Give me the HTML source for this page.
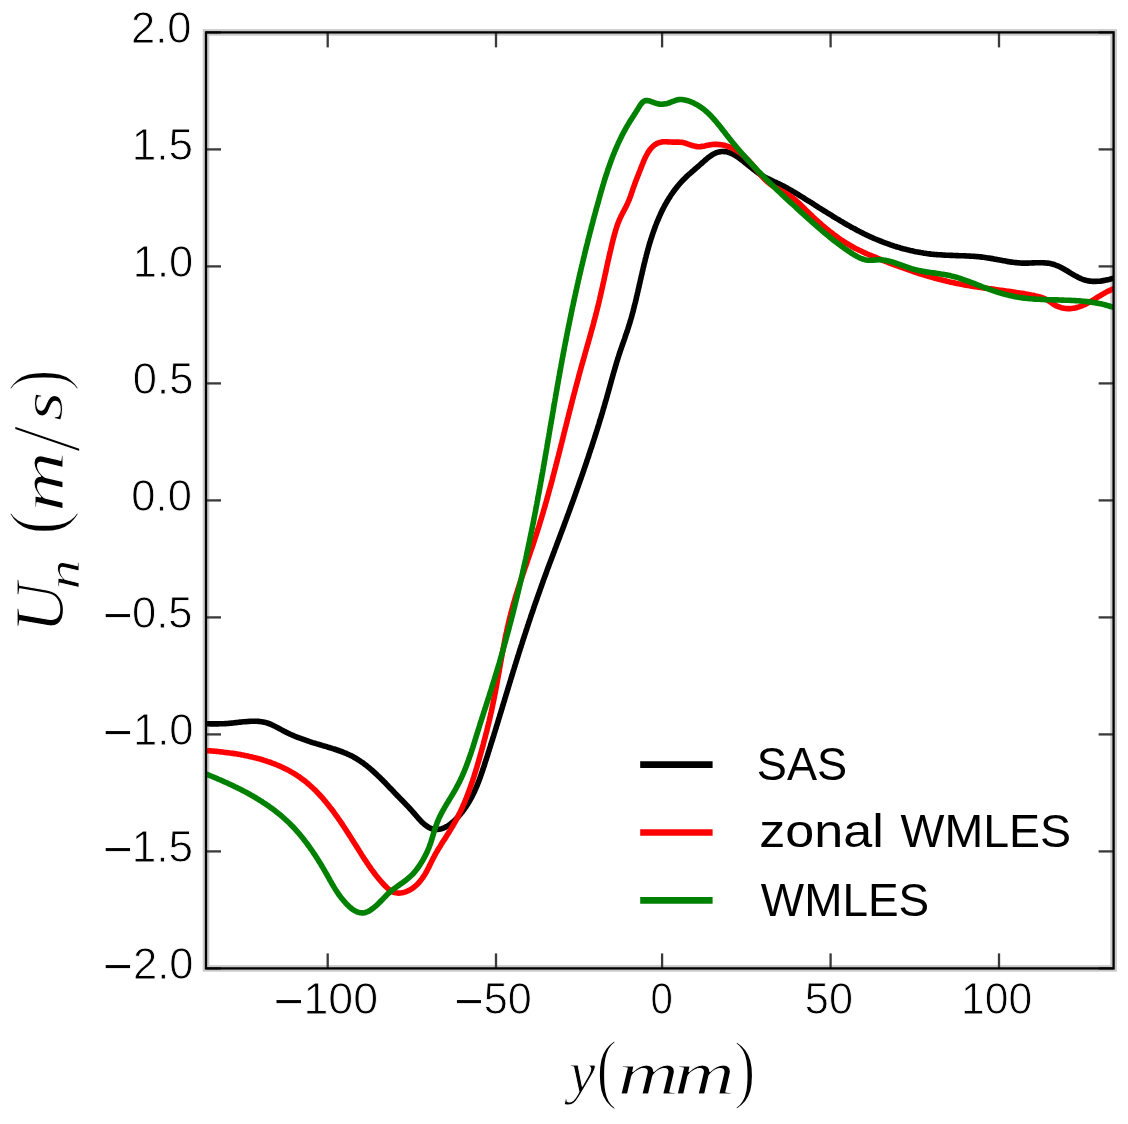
<!DOCTYPE html>
<html><head><meta charset="utf-8"><style>
html,body{margin:0;padding:0;background:#fff;}
svg{display:block;filter:blur(0.45px);}
</style></head><body>
<svg width="1128" height="1124" viewBox="0 0 1128 1124">
<rect x="0" y="0" width="1128" height="1124" fill="#fff"/>
<defs><clipPath id="ax"><rect x="206.0" y="32.4" width="907.5999999999999" height="936.0"/></clipPath></defs>
<rect x="206.0" y="32.4" width="907.5999999999999" height="936.0" fill="none" stroke="#cacaca" stroke-width="6.6"/>
<g clip-path="url(#ax)" fill="none" stroke-width="5.6" stroke-linejoin="round" stroke-linecap="round">
<path stroke="#000" d="M206.0,723.7L207.5,723.8 209.0,723.8 210.5,723.9 212.0,723.9 213.5,723.9 215.0,723.9 216.5,723.9 218.0,723.9 219.5,723.8 221.0,723.8 222.5,723.7 224.0,723.7 225.5,723.6 227.0,723.5 228.5,723.4 230.0,723.2 231.5,723.1 233.0,723.0 234.5,722.8 236.0,722.6 237.5,722.5 238.9,722.3 240.4,722.1 241.9,722.0 243.4,721.8 244.9,721.7 246.4,721.6 247.9,721.5 249.4,721.4 250.9,721.3 252.4,721.2 253.9,721.2 255.4,721.2 256.9,721.3 258.4,721.4 259.9,721.5 261.4,721.7 262.9,722.0 264.3,722.3 265.8,722.6 267.2,723.0 268.7,723.5 270.1,724.0 271.4,724.6 272.8,725.2 274.2,725.9 275.5,726.6 276.8,727.3 278.2,728.0 279.5,728.7 280.8,729.4 282.1,730.1 283.4,730.9 284.8,731.5 286.1,732.2 287.4,732.9 288.8,733.5 290.2,734.2 291.5,734.8 292.9,735.4 294.3,736.0 295.7,736.6 297.1,737.1 298.5,737.7 299.9,738.2 301.3,738.7 302.7,739.2 304.1,739.7 305.5,740.2 306.9,740.7 308.3,741.2 309.8,741.7 311.2,742.1 312.6,742.6 314.1,743.0 315.5,743.4 316.9,743.9 318.4,744.3 319.8,744.7 321.3,745.1 322.7,745.6 324.1,746.0 325.6,746.4 327.0,746.8 328.5,747.3 329.9,747.7 331.3,748.1 332.8,748.6 334.2,749.0 335.6,749.5 337.0,750.0 338.5,750.5 339.9,751.0 341.3,751.5 342.7,752.0 344.1,752.6 345.5,753.2 346.8,753.7 348.2,754.4 349.6,755.0 350.9,755.6 352.3,756.3 353.6,757.0 354.9,757.8 356.2,758.5 357.5,759.3 358.7,760.1 360.0,760.9 361.2,761.8 362.5,762.6 363.7,763.5 364.9,764.4 366.1,765.3 367.3,766.2 368.4,767.2 369.6,768.2 370.7,769.1 371.9,770.1 373.0,771.1 374.1,772.1 375.2,773.1 376.3,774.1 377.4,775.2 378.5,776.2 379.6,777.3 380.6,778.3 381.7,779.4 382.8,780.4 383.8,781.5 384.9,782.6 385.9,783.6 386.9,784.7 388.0,785.8 389.0,786.9 390.1,788.0 391.1,789.1 392.1,790.1 393.2,791.2 394.2,792.3 395.2,793.4 396.3,794.5 397.3,795.6 398.4,796.6 399.4,797.7 400.5,798.8 401.5,799.9 402.6,800.9 403.6,802.0 404.7,803.1 405.7,804.2 406.7,805.2 407.8,806.3 408.8,807.4 409.8,808.5 410.8,809.6 411.8,810.7 412.8,811.9 413.8,813.0 414.8,814.1 415.8,815.3 416.8,816.4 417.7,817.5 418.7,818.7 419.8,819.8 420.8,820.9 421.8,821.9 422.9,823.0 424.0,824.0 425.2,824.9 426.4,825.9 427.6,826.7 428.9,827.5 430.3,828.1 431.7,828.7 433.1,829.1 434.6,829.3 436.1,829.4 437.6,829.4 439.1,829.3 440.5,829.0 442.0,828.6 443.4,828.1 444.8,827.5 446.1,826.8 447.4,826.1 448.7,825.3 449.9,824.4 451.1,823.5 452.3,822.6 453.4,821.6 454.5,820.6 455.6,819.5 456.6,818.4 457.7,817.3 458.7,816.2 459.6,815.1 460.6,813.9 461.5,812.8 462.5,811.6 463.4,810.4 464.2,809.2 465.1,807.9 466.0,806.7 466.8,805.4 467.6,804.2 468.4,802.9 469.2,801.6 469.9,800.3 470.6,799.0 471.4,797.7 472.1,796.4 472.7,795.0 473.4,793.7 474.1,792.3 474.7,791.0 475.3,789.6 475.9,788.2 476.5,786.8 477.1,785.5 477.6,784.1 478.2,782.7 478.7,781.3 479.3,779.9 479.8,778.5 480.3,777.0 480.8,775.6 481.3,774.2 481.8,772.8 482.3,771.4 482.7,770.0 483.2,768.5 483.7,767.1 484.2,765.7 484.6,764.2 485.1,762.8 485.5,761.4 486.0,760.0 486.5,758.5 486.9,757.1 487.4,755.7 487.8,754.2 488.3,752.8 488.7,751.4 489.2,750.0 489.6,748.5 490.1,747.1 490.5,745.7 491.0,744.2 491.4,742.8 491.9,741.4 492.3,739.9 492.8,738.5 493.2,737.1 493.7,735.6 494.1,734.2 494.5,732.8 495.0,731.3 495.4,729.9 495.9,728.5 496.3,727.0 496.7,725.6 497.2,724.2 497.6,722.7 498.1,721.3 498.5,719.8 498.9,718.4 499.4,717.0 499.8,715.5 500.2,714.1 500.7,712.7 501.1,711.2 501.6,709.8 502.0,708.4 502.4,706.9 502.9,705.5 503.3,704.1 503.7,702.6 504.2,701.2 504.6,699.7 505.0,698.3 505.5,696.9 505.9,695.4 506.3,694.0 506.8,692.6 507.2,691.1 507.6,689.7 508.1,688.3 508.5,686.8 509.0,685.4 509.4,683.9 509.8,682.5 510.3,681.1 510.7,679.6 511.1,678.2 511.6,676.8 512.0,675.3 512.5,673.9 512.9,672.5 513.3,671.0 513.8,669.6 514.2,668.2 514.7,666.7 515.1,665.3 515.6,663.9 516.0,662.4 516.5,661.0 516.9,659.6 517.3,658.1 517.8,656.7 518.2,655.3 518.7,653.8 519.1,652.4 519.6,651.0 520.0,649.5 520.5,648.1 521.0,646.7 521.4,645.3 521.9,643.8 522.3,642.4 522.8,641.0 523.2,639.5 523.7,638.1 524.2,636.7 524.6,635.3 525.1,633.8 525.6,632.4 526.0,631.0 526.5,629.5 527.0,628.1 527.4,626.7 527.9,625.3 528.4,623.8 528.8,622.4 529.3,621.0 529.8,619.6 530.3,618.1 530.7,616.7 531.2,615.3 531.7,613.9 532.2,612.5 532.7,611.0 533.2,609.6 533.6,608.2 534.1,606.8 534.6,605.4 535.1,603.9 535.6,602.5 536.1,601.1 536.6,599.7 537.1,598.3 537.6,596.9 538.1,595.4 538.6,594.0 539.1,592.6 539.6,591.2 540.1,589.8 540.6,588.4 541.1,587.0 541.6,585.5 542.1,584.1 542.6,582.7 543.1,581.3 543.6,579.9 544.1,578.5 544.6,577.1 545.2,575.7 545.7,574.3 546.2,572.8 546.7,571.4 547.2,570.0 547.7,568.6 548.3,567.2 548.8,565.8 549.3,564.4 549.8,563.0 550.4,561.6 550.9,560.2 551.4,558.8 552.0,557.4 552.5,556.0 553.0,554.6 553.5,553.2 554.1,551.8 554.6,550.4 555.1,548.9 555.7,547.5 556.2,546.1 556.7,544.7 557.2,543.3 557.8,541.9 558.3,540.5 558.8,539.1 559.4,537.7 559.9,536.3 560.4,534.9 560.9,533.5 561.5,532.1 562.0,530.7 562.5,529.3 563.1,527.9 563.6,526.5 564.1,525.1 564.6,523.7 565.1,522.3 565.7,520.8 566.2,519.4 566.7,518.0 567.2,516.6 567.7,515.2 568.3,513.8 568.8,512.4 569.3,511.0 569.8,509.6 570.3,508.2 570.8,506.8 571.3,505.3 571.9,503.9 572.4,502.5 572.9,501.1 573.4,499.7 573.9,498.3 574.4,496.9 574.9,495.5 575.4,494.1 575.9,492.6 576.4,491.2 576.9,489.8 577.4,488.4 577.9,487.0 578.4,485.6 578.9,484.1 579.4,482.7 579.9,481.3 580.4,479.9 580.9,478.5 581.4,477.1 581.9,475.6 582.4,474.2 582.9,472.8 583.4,471.4 583.9,470.0 584.3,468.6 584.8,467.1 585.3,465.7 585.8,464.3 586.3,462.9 586.8,461.4 587.2,460.0 587.7,458.6 588.2,457.2 588.7,455.8 589.1,454.3 589.6,452.9 590.1,451.5 590.5,450.1 591.0,448.6 591.5,447.2 592.0,445.8 592.4,444.4 592.9,442.9 593.3,441.5 593.8,440.1 594.3,438.6 594.7,437.2 595.2,435.8 595.6,434.4 596.1,432.9 596.5,431.5 597.0,430.1 597.4,428.6 597.9,427.2 598.3,425.8 598.8,424.3 599.2,422.9 599.6,421.5 600.1,420.0 600.5,418.6 601.0,417.2 601.4,415.7 601.8,414.3 602.3,412.8 602.7,411.4 603.1,410.0 603.5,408.5 604.0,407.1 604.4,405.6 604.8,404.2 605.2,402.8 605.6,401.3 606.1,399.9 606.5,398.4 606.9,397.0 607.3,395.5 607.7,394.1 608.1,392.7 608.5,391.2 608.9,389.8 609.3,388.3 609.7,386.9 610.1,385.4 610.5,384.0 610.9,382.5 611.3,381.1 611.7,379.6 612.1,378.2 612.5,376.8 612.9,375.3 613.3,373.9 613.7,372.4 614.2,371.0 614.6,369.5 615.0,368.1 615.4,366.7 615.8,365.2 616.3,363.8 616.7,362.3 617.1,360.9 617.6,359.5 618.0,358.0 618.5,356.6 618.9,355.2 619.4,353.7 619.9,352.3 620.3,350.9 620.8,349.5 621.3,348.1 621.8,346.6 622.3,345.2 622.8,343.8 623.3,342.4 623.8,341.0 624.3,339.6 624.8,338.1 625.2,336.7 625.7,335.3 626.2,333.9 626.7,332.5 627.2,331.0 627.7,329.6 628.1,328.2 628.6,326.8 629.0,325.3 629.5,323.9 629.9,322.5 630.3,321.0 630.8,319.6 631.2,318.1 631.6,316.7 632.0,315.2 632.4,313.8 632.8,312.3 633.2,310.9 633.5,309.4 633.9,308.0 634.3,306.5 634.6,305.1 635.0,303.6 635.4,302.2 635.7,300.7 636.1,299.2 636.4,297.8 636.7,296.3 637.1,294.9 637.4,293.4 637.8,291.9 638.1,290.5 638.4,289.0 638.8,287.6 639.1,286.1 639.4,284.6 639.8,283.2 640.1,281.7 640.4,280.2 640.8,278.8 641.1,277.3 641.4,275.8 641.8,274.4 642.1,272.9 642.4,271.5 642.8,270.0 643.1,268.5 643.5,267.1 643.8,265.6 644.1,264.2 644.5,262.7 644.9,261.2 645.2,259.8 645.6,258.3 646.0,256.9 646.3,255.4 646.7,254.0 647.1,252.5 647.5,251.1 647.9,249.6 648.3,248.2 648.7,246.7 649.1,245.3 649.5,243.8 650.0,242.4 650.4,241.0 650.8,239.5 651.3,238.1 651.8,236.7 652.2,235.3 652.7,233.8 653.2,232.4 653.7,231.0 654.2,229.6 654.7,228.2 655.2,226.8 655.7,225.4 656.3,224.0 656.8,222.6 657.4,221.2 658.0,219.8 658.6,218.4 659.2,217.0 659.8,215.7 660.4,214.3 661.0,212.9 661.7,211.6 662.3,210.2 663.0,208.9 663.7,207.5 664.4,206.2 665.1,204.9 665.8,203.6 666.6,202.3 667.3,201.0 668.1,199.7 668.9,198.4 669.7,197.2 670.5,195.9 671.3,194.6 672.2,193.4 673.0,192.2 673.9,191.0 674.8,189.8 675.7,188.6 676.7,187.4 677.6,186.2 678.6,185.1 679.5,183.9 680.5,182.8 681.5,181.7 682.6,180.6 683.6,179.5 684.7,178.4 685.7,177.4 686.8,176.4 687.9,175.3 689.0,174.3 690.2,173.3 691.3,172.4 692.4,171.4 693.6,170.4 694.7,169.4 695.8,168.4 697.0,167.4 698.1,166.5 699.2,165.5 700.3,164.5 701.4,163.5 702.6,162.5 703.7,161.5 704.8,160.5 706.0,159.5 707.1,158.5 708.3,157.6 709.5,156.7 710.7,155.8 712.0,155.0 713.2,154.2 714.6,153.5 715.9,152.9 717.3,152.4 718.8,152.0 720.3,151.7 721.7,151.5 723.2,151.5 724.7,151.6 726.2,151.8 727.7,152.1 729.1,152.6 730.5,153.1 731.9,153.7 733.2,154.4 734.5,155.1 735.8,155.9 737.1,156.7 738.3,157.5 739.6,158.4 740.8,159.3 742.0,160.2 743.2,161.1 744.3,162.0 745.5,163.0 746.7,163.9 747.8,164.9 749.0,165.8 750.2,166.8 751.3,167.7 752.5,168.7 753.7,169.6 754.9,170.5 756.1,171.4 757.3,172.3 758.5,173.2 759.7,174.0 761.0,174.8 762.3,175.6 763.6,176.4 764.9,177.1 766.2,177.8 767.6,178.5 768.9,179.1 770.3,179.8 771.6,180.4 773.0,181.1 774.3,181.7 775.7,182.3 777.1,183.0 778.4,183.6 779.8,184.3 781.1,184.9 782.4,185.6 783.8,186.3 785.1,187.0 786.4,187.7 787.7,188.5 789.0,189.2 790.3,189.9 791.6,190.7 792.9,191.5 794.2,192.2 795.5,193.0 796.8,193.8 798.1,194.5 799.4,195.3 800.6,196.1 801.9,196.9 803.2,197.7 804.5,198.5 805.7,199.3 807.0,200.1 808.3,200.9 809.6,201.7 810.8,202.4 812.1,203.2 813.4,204.0 814.6,204.8 815.9,205.7 817.2,206.5 818.4,207.3 819.7,208.1 821.0,208.9 822.2,209.7 823.5,210.5 824.8,211.3 826.1,212.0 827.3,212.8 828.6,213.6 829.9,214.4 831.2,215.2 832.4,216.0 833.7,216.8 835.0,217.6 836.3,218.4 837.6,219.1 838.9,219.9 840.1,220.7 841.4,221.4 842.7,222.2 844.0,223.0 845.3,223.7 846.6,224.5 847.9,225.2 849.2,225.9 850.5,226.7 851.9,227.4 853.2,228.1 854.5,228.8 855.8,229.5 857.1,230.2 858.5,230.9 859.8,231.6 861.1,232.3 862.5,233.0 863.8,233.7 865.2,234.3 866.5,235.0 867.9,235.6 869.2,236.2 870.6,236.9 872.0,237.5 873.3,238.1 874.7,238.7 876.1,239.3 877.5,239.9 878.9,240.4 880.3,241.0 881.7,241.5 883.1,242.1 884.5,242.6 885.9,243.2 887.3,243.7 888.7,244.2 890.1,244.7 891.5,245.1 892.9,245.6 894.4,246.1 895.8,246.5 897.2,247.0 898.7,247.4 900.1,247.8 901.6,248.3 903.0,248.7 904.5,249.0 905.9,249.4 907.4,249.8 908.8,250.1 910.3,250.5 911.7,250.8 913.2,251.1 914.7,251.5 916.1,251.8 917.6,252.0 919.1,252.3 920.6,252.6 922.0,252.8 923.5,253.1 925.0,253.3 926.5,253.5 928.0,253.7 929.5,253.9 931.0,254.1 932.5,254.2 934.0,254.4 935.4,254.5 936.9,254.6 938.4,254.7 939.9,254.8 941.4,254.9 942.9,255.0 944.4,255.1 945.9,255.2 947.4,255.2 948.9,255.3 950.4,255.4 951.9,255.4 953.4,255.5 954.9,255.5 956.4,255.6 957.9,255.6 959.4,255.7 960.9,255.7 962.4,255.8 963.9,255.8 965.4,255.9 966.9,256.0 968.4,256.0 969.9,256.1 971.4,256.2 972.9,256.3 974.4,256.4 975.9,256.5 977.4,256.6 978.9,256.8 980.4,256.9 981.9,257.1 983.4,257.3 984.9,257.5 986.4,257.7 987.8,257.9 989.3,258.1 990.8,258.4 992.3,258.6 993.8,258.9 995.2,259.2 996.7,259.4 998.2,259.7 999.7,260.0 1001.1,260.3 1002.6,260.6 1004.1,260.8 1005.6,261.1 1007.0,261.4 1008.5,261.6 1010.0,261.9 1011.5,262.1 1013.0,262.3 1014.5,262.5 1015.9,262.6 1017.4,262.8 1018.9,262.9 1020.4,263.0 1021.9,263.1 1023.4,263.1 1024.9,263.1 1026.4,263.1 1027.9,263.1 1029.4,263.0 1030.9,263.0 1032.4,262.9 1033.9,262.9 1035.4,262.8 1036.9,262.8 1038.4,262.7 1039.9,262.7 1041.4,262.7 1042.9,262.8 1044.4,262.9 1045.9,263.0 1047.4,263.1 1048.9,263.3 1050.4,263.6 1051.9,263.9 1053.3,264.3 1054.7,264.7 1056.1,265.3 1057.5,265.8 1058.9,266.4 1060.3,267.1 1061.6,267.8 1062.9,268.5 1064.2,269.2 1065.5,270.0 1066.8,270.7 1068.1,271.5 1069.4,272.3 1070.7,273.1 1071.9,273.8 1073.2,274.6 1074.5,275.4 1075.8,276.1 1077.2,276.8 1078.5,277.5 1079.9,278.1 1081.2,278.7 1082.6,279.3 1084.0,279.8 1085.5,280.2 1086.9,280.6 1088.4,280.9 1089.9,281.1 1091.4,281.3 1092.9,281.4 1094.4,281.4 1095.9,281.4 1097.4,281.3 1098.9,281.2 1100.4,281.1 1101.9,280.9 1103.3,280.6 1104.8,280.4 1106.3,280.0 1107.7,279.7 1109.2,279.4 1110.7,279.0 1112.1,278.6 1113.5,278.2 1115.0,277.7"/>
<path stroke="#f00" d="M206.0,750.6L207.5,750.7 209.0,750.8 210.5,750.9 212.0,751.0 213.5,751.1 215.0,751.3 216.5,751.4 218.0,751.5 219.5,751.7 221.0,751.9 222.5,752.0 224.0,752.2 225.4,752.4 226.9,752.6 228.4,752.8 229.9,753.0 231.4,753.2 232.9,753.4 234.4,753.6 235.9,753.8 237.3,754.1 238.8,754.3 240.3,754.6 241.8,754.9 243.2,755.1 244.7,755.4 246.2,755.7 247.7,756.0 249.1,756.4 250.6,756.7 252.0,757.0 253.5,757.4 255.0,757.7 256.4,758.1 257.9,758.5 259.3,758.9 260.8,759.3 262.2,759.7 263.6,760.2 265.1,760.6 266.5,761.1 267.9,761.6 269.3,762.0 270.8,762.5 272.2,763.1 273.6,763.6 275.0,764.1 276.4,764.7 277.8,765.3 279.1,765.8 280.5,766.4 281.9,767.1 283.2,767.7 284.6,768.4 285.9,769.0 287.3,769.7 288.6,770.4 289.9,771.1 291.2,771.9 292.5,772.6 293.8,773.4 295.1,774.2 296.4,775.0 297.6,775.8 298.9,776.6 300.1,777.5 301.3,778.4 302.5,779.3 303.7,780.2 304.9,781.1 306.1,782.0 307.2,783.0 308.4,784.0 309.5,785.0 310.6,786.0 311.7,787.0 312.8,788.0 313.9,789.0 315.0,790.1 316.0,791.1 317.1,792.2 318.1,793.3 319.2,794.4 320.2,795.5 321.2,796.6 322.2,797.7 323.2,798.8 324.1,800.0 325.1,801.1 326.1,802.3 327.0,803.4 328.0,804.6 328.9,805.8 329.8,807.0 330.8,808.2 331.7,809.3 332.6,810.5 333.5,811.7 334.4,813.0 335.2,814.2 336.1,815.4 337.0,816.6 337.8,817.8 338.7,819.1 339.6,820.3 340.4,821.5 341.2,822.8 342.1,824.0 342.9,825.3 343.7,826.5 344.6,827.8 345.4,829.0 346.2,830.3 347.0,831.6 347.8,832.8 348.6,834.1 349.5,835.4 350.3,836.6 351.1,837.9 351.9,839.2 352.7,840.4 353.5,841.7 354.3,843.0 355.1,844.2 355.9,845.5 356.7,846.8 357.5,848.1 358.3,849.3 359.1,850.6 359.9,851.9 360.7,853.1 361.5,854.4 362.3,855.7 363.1,856.9 363.9,858.2 364.7,859.4 365.6,860.7 366.4,861.9 367.2,863.2 368.1,864.4 368.9,865.7 369.8,866.9 370.6,868.1 371.5,869.4 372.4,870.6 373.3,871.8 374.2,873.0 375.1,874.2 376.0,875.4 376.9,876.6 377.9,877.7 378.8,878.9 379.8,880.0 380.8,881.2 381.8,882.3 382.8,883.4 383.8,884.5 384.8,885.6 385.9,886.6 387.0,887.7 388.1,888.7 389.2,889.7 390.4,890.6 391.7,891.4 393.0,892.0 394.5,892.5 395.9,892.8 397.4,893.0 398.9,893.1 400.4,893.0 401.9,892.8 403.4,892.5 404.8,892.1 406.2,891.6 407.6,891.0 409.0,890.4 410.3,889.7 411.6,888.9 412.8,888.1 414.0,887.2 415.2,886.2 416.3,885.2 417.4,884.2 418.4,883.1 419.4,882.0 420.4,880.8 421.3,879.6 422.2,878.4 423.1,877.2 423.9,875.9 424.7,874.7 425.5,873.4 426.2,872.1 426.9,870.8 427.6,869.4 428.3,868.1 429.0,866.8 429.6,865.4 430.3,864.1 431.0,862.7 431.6,861.4 432.3,860.0 433.0,858.7 433.7,857.4 434.4,856.0 435.1,854.7 435.8,853.4 436.6,852.1 437.3,850.8 438.1,849.5 438.9,848.2 439.7,847.0 440.5,845.7 441.2,844.4 442.0,843.1 442.8,841.9 443.6,840.6 444.5,839.3 445.3,838.1 446.1,836.8 446.9,835.5 447.7,834.3 448.5,833.0 449.3,831.7 450.1,830.4 450.8,829.2 451.6,827.9 452.4,826.6 453.1,825.3 453.9,824.0 454.6,822.7 455.4,821.4 456.1,820.1 456.8,818.7 457.5,817.4 458.2,816.1 458.8,814.7 459.5,813.4 460.2,812.0 460.8,810.7 461.4,809.3 462.1,808.0 462.7,806.6 463.3,805.2 463.9,803.8 464.5,802.5 465.1,801.1 465.6,799.7 466.2,798.3 466.8,796.9 467.3,795.5 467.8,794.1 468.4,792.7 468.9,791.3 469.4,789.9 469.9,788.5 470.4,787.1 470.9,785.6 471.4,784.2 471.9,782.8 472.4,781.4 472.9,780.0 473.3,778.5 473.8,777.1 474.2,775.7 474.7,774.2 475.1,772.8 475.6,771.4 476.0,769.9 476.4,768.5 476.9,767.1 477.3,765.6 477.7,764.2 478.1,762.7 478.6,761.3 479.0,759.8 479.4,758.4 479.8,757.0 480.2,755.5 480.6,754.1 481.0,752.6 481.4,751.2 481.8,749.7 482.2,748.3 482.6,746.8 483.0,745.4 483.4,743.9 483.7,742.5 484.1,741.0 484.5,739.6 484.9,738.1 485.3,736.7 485.6,735.2 486.0,733.8 486.4,732.3 486.8,730.9 487.1,729.4 487.5,727.9 487.8,726.5 488.2,725.0 488.6,723.6 488.9,722.1 489.3,720.6 489.6,719.2 489.9,717.7 490.3,716.3 490.6,714.8 490.9,713.3 491.3,711.9 491.6,710.4 491.9,708.9 492.2,707.5 492.5,706.0 492.8,704.5 493.1,703.1 493.4,701.6 493.7,700.1 494.0,698.6 494.3,697.2 494.6,695.7 494.9,694.2 495.2,692.8 495.5,691.3 495.7,689.8 496.0,688.3 496.3,686.9 496.6,685.4 496.8,683.9 497.1,682.4 497.4,680.9 497.6,679.5 497.9,678.0 498.2,676.5 498.4,675.0 498.7,673.6 499.0,672.1 499.2,670.6 499.5,669.1 499.7,667.6 500.0,666.2 500.3,664.7 500.5,663.2 500.8,661.7 501.1,660.3 501.3,658.8 501.6,657.3 501.9,655.8 502.1,654.4 502.4,652.9 502.7,651.4 502.9,649.9 503.2,648.4 503.5,647.0 503.8,645.5 504.1,644.0 504.4,642.6 504.6,641.1 504.9,639.6 505.2,638.1 505.5,636.7 505.8,635.2 506.1,633.7 506.5,632.3 506.8,630.8 507.1,629.3 507.4,627.9 507.7,626.4 508.1,624.9 508.4,623.5 508.8,622.0 509.1,620.5 509.5,619.1 509.8,617.6 510.2,616.2 510.6,614.7 510.9,613.3 511.3,611.8 511.7,610.4 512.1,608.9 512.5,607.5 512.9,606.0 513.3,604.6 513.7,603.1 514.1,601.7 514.6,600.3 515.0,598.8 515.4,597.4 515.9,595.9 516.3,594.5 516.7,593.1 517.2,591.6 517.6,590.2 518.1,588.8 518.6,587.4 519.0,585.9 519.5,584.5 520.0,583.1 520.4,581.6 520.9,580.2 521.4,578.8 521.8,577.4 522.3,575.9 522.8,574.5 523.3,573.1 523.8,571.7 524.2,570.3 524.7,568.8 525.2,567.4 525.7,566.0 526.2,564.6 526.7,563.2 527.1,561.7 527.6,560.3 528.1,558.9 528.6,557.5 529.1,556.1 529.6,554.6 530.1,553.2 530.5,551.8 531.0,550.4 531.5,549.0 532.0,547.5 532.5,546.1 533.0,544.7 533.4,543.3 533.9,541.8 534.4,540.4 534.8,539.0 535.3,537.6 535.8,536.1 536.2,534.7 536.7,533.3 537.2,531.8 537.6,530.4 538.1,529.0 538.5,527.6 539.0,526.1 539.4,524.7 539.8,523.2 540.3,521.8 540.7,520.4 541.2,518.9 541.6,517.5 542.0,516.1 542.4,514.6 542.9,513.2 543.3,511.7 543.7,510.3 544.1,508.9 544.6,507.4 545.0,506.0 545.4,504.5 545.8,503.1 546.2,501.7 546.6,500.2 547.0,498.8 547.4,497.3 547.8,495.9 548.2,494.4 548.6,493.0 549.0,491.5 549.4,490.1 549.8,488.6 550.2,487.2 550.6,485.7 551.0,484.3 551.4,482.8 551.8,481.4 552.2,479.9 552.5,478.5 552.9,477.0 553.3,475.6 553.7,474.1 554.1,472.7 554.4,471.2 554.8,469.8 555.2,468.3 555.6,466.9 555.9,465.4 556.3,464.0 556.7,462.5 557.1,461.1 557.4,459.6 557.8,458.1 558.2,456.7 558.6,455.2 558.9,453.8 559.3,452.3 559.7,450.9 560.0,449.4 560.4,448.0 560.8,446.5 561.1,445.0 561.5,443.6 561.9,442.1 562.2,440.7 562.6,439.2 563.0,437.8 563.3,436.3 563.7,434.9 564.0,433.4 564.4,431.9 564.8,430.5 565.1,429.0 565.5,427.6 565.9,426.1 566.2,424.7 566.6,423.2 567.0,421.8 567.3,420.3 567.7,418.8 568.1,417.4 568.4,415.9 568.8,414.5 569.2,413.0 569.5,411.6 569.9,410.1 570.3,408.7 570.7,407.2 571.0,405.7 571.4,404.3 571.8,402.8 572.1,401.4 572.5,399.9 572.9,398.5 573.3,397.0 573.6,395.6 574.0,394.1 574.4,392.7 574.8,391.2 575.2,389.8 575.5,388.3 575.9,386.9 576.3,385.4 576.7,384.0 577.1,382.5 577.5,381.1 577.9,379.6 578.3,378.2 578.6,376.7 579.0,375.3 579.4,373.8 579.8,372.4 580.2,370.9 580.6,369.5 581.0,368.0 581.4,366.6 581.8,365.1 582.2,363.7 582.6,362.2 583.1,360.8 583.5,359.4 583.9,357.9 584.3,356.5 584.7,355.0 585.1,353.6 585.5,352.1 585.9,350.7 586.3,349.2 586.7,347.8 587.1,346.4 587.5,344.9 588.0,343.5 588.4,342.0 588.8,340.6 589.2,339.1 589.6,337.7 590.0,336.2 590.4,334.8 590.8,333.3 591.2,331.9 591.6,330.5 592.0,329.0 592.4,327.6 592.8,326.1 593.2,324.7 593.6,323.2 593.9,321.8 594.3,320.3 594.7,318.9 595.1,317.4 595.5,316.0 595.9,314.5 596.2,313.1 596.6,311.6 597.0,310.1 597.3,308.7 597.7,307.2 598.1,305.8 598.4,304.3 598.8,302.9 599.1,301.4 599.5,299.9 599.8,298.5 600.1,297.0 600.5,295.5 600.8,294.1 601.1,292.6 601.5,291.2 601.8,289.7 602.1,288.2 602.5,286.8 602.8,285.3 603.1,283.8 603.4,282.4 603.8,280.9 604.1,279.4 604.4,278.0 604.7,276.5 605.0,275.0 605.4,273.6 605.7,272.1 606.0,270.6 606.3,269.2 606.6,267.7 606.9,266.2 607.3,264.8 607.6,263.3 607.9,261.8 608.2,260.4 608.6,258.9 608.9,257.4 609.2,256.0 609.6,254.5 609.9,253.1 610.2,251.6 610.6,250.1 610.9,248.7 611.3,247.2 611.6,245.7 612.0,244.3 612.3,242.8 612.7,241.4 613.0,239.9 613.4,238.5 613.8,237.0 614.2,235.6 614.5,234.1 615.0,232.7 615.4,231.2 615.8,229.8 616.3,228.3 616.7,226.9 617.2,225.5 617.7,224.1 618.2,222.7 618.8,221.3 619.4,219.9 620.0,218.5 620.6,217.2 621.2,215.8 621.9,214.5 622.6,213.1 623.3,211.8 624.0,210.5 624.7,209.1 625.4,207.8 626.1,206.5 626.8,205.1 627.4,203.8 628.0,202.4 628.6,201.0 629.2,199.7 629.7,198.3 630.3,196.8 630.8,195.4 631.3,194.0 631.7,192.6 632.2,191.2 632.7,189.7 633.2,188.3 633.7,186.9 634.2,185.5 634.7,184.1 635.2,182.7 635.7,181.3 636.3,179.9 636.8,178.5 637.4,177.1 637.9,175.7 638.5,174.3 639.0,172.9 639.6,171.5 640.1,170.1 640.7,168.7 641.2,167.3 641.8,165.9 642.3,164.5 642.9,163.1 643.5,161.7 644.0,160.3 644.6,159.0 645.3,157.6 645.9,156.3 646.6,154.9 647.4,153.6 648.1,152.3 648.9,151.1 649.8,149.8 650.7,148.7 651.7,147.5 652.8,146.5 653.9,145.5 655.1,144.6 656.4,143.8 657.7,143.1 659.1,142.6 660.6,142.2 662.0,141.9 663.5,141.8 665.0,141.8 666.5,141.8 668.0,141.9 669.5,142.0 671.0,142.0 672.5,142.1 674.0,142.1 675.5,142.1 677.0,142.1 678.5,142.1 680.0,142.2 681.5,142.3 683.0,142.6 684.5,142.9 685.9,143.3 687.3,143.8 688.8,144.3 690.2,144.8 691.6,145.3 693.0,145.7 694.5,146.1 695.9,146.4 697.4,146.6 698.9,146.7 700.4,146.6 701.9,146.4 703.4,146.2 704.9,145.9 706.3,145.5 707.8,145.2 709.3,144.9 710.8,144.7 712.2,144.5 713.7,144.4 715.2,144.4 716.7,144.4 718.2,144.5 719.7,144.6 721.2,144.8 722.7,145.0 724.2,145.3 725.6,145.7 727.1,146.1 728.5,146.6 729.9,147.1 731.3,147.7 732.7,148.3 734.0,149.0 735.3,149.7 736.6,150.5 737.8,151.3 739.1,152.2 740.3,153.1 741.5,154.0 742.6,155.0 743.8,155.9 744.9,156.9 746.0,158.0 747.0,159.0 748.1,160.1 749.1,161.2 750.1,162.3 751.1,163.4 752.1,164.5 753.1,165.7 754.1,166.8 755.0,168.0 756.0,169.2 756.9,170.3 757.9,171.5 758.8,172.6 759.8,173.8 760.7,174.9 761.7,176.1 762.7,177.2 763.8,178.3 764.8,179.4 765.9,180.4 767.0,181.4 768.1,182.4 769.3,183.4 770.4,184.3 771.7,185.2 772.9,186.0 774.2,186.8 775.5,187.6 776.8,188.3 778.1,189.0 779.4,189.8 780.7,190.5 782.0,191.2 783.4,191.9 784.7,192.6 786.0,193.4 787.3,194.2 788.5,195.0 789.8,195.8 791.0,196.7 792.2,197.6 793.4,198.5 794.6,199.4 795.7,200.4 796.8,201.4 798.0,202.4 799.1,203.4 800.2,204.4 801.2,205.5 802.3,206.5 803.4,207.6 804.5,208.6 805.5,209.7 806.6,210.7 807.7,211.8 808.8,212.8 809.8,213.9 810.9,214.9 812.0,215.9 813.1,217.0 814.2,218.0 815.3,219.0 816.4,220.0 817.5,221.0 818.6,222.0 819.7,223.0 820.9,224.0 822.0,225.0 823.1,226.0 824.3,227.0 825.4,227.9 826.6,228.9 827.8,229.8 828.9,230.8 830.1,231.7 831.3,232.6 832.5,233.5 833.7,234.5 834.9,235.4 836.1,236.2 837.3,237.1 838.5,238.0 839.7,238.8 841.0,239.7 842.2,240.5 843.5,241.4 844.8,242.2 846.0,243.0 847.3,243.7 848.6,244.5 849.9,245.3 851.2,246.0 852.5,246.8 853.8,247.5 855.1,248.2 856.5,248.9 857.8,249.5 859.2,250.2 860.5,250.8 861.9,251.5 863.2,252.1 864.6,252.7 866.0,253.4 867.3,254.0 868.7,254.6 870.1,255.2 871.5,255.7 872.9,256.3 874.3,256.9 875.6,257.5 877.0,258.0 878.4,258.6 879.8,259.2 881.2,259.7 882.6,260.3 884.0,260.8 885.4,261.4 886.8,261.9 888.2,262.5 889.6,263.0 891.0,263.6 892.4,264.1 893.8,264.6 895.2,265.1 896.6,265.7 898.0,266.2 899.4,266.7 900.8,267.2 902.2,267.7 903.7,268.2 905.1,268.7 906.5,269.2 907.9,269.7 909.3,270.2 910.8,270.7 912.2,271.2 913.6,271.7 915.0,272.1 916.4,272.6 917.9,273.1 919.3,273.5 920.7,274.0 922.2,274.4 923.6,274.9 925.0,275.3 926.5,275.7 927.9,276.2 929.4,276.6 930.8,277.0 932.2,277.4 933.7,277.8 935.1,278.2 936.6,278.6 938.0,279.0 939.5,279.4 940.9,279.8 942.4,280.1 943.8,280.5 945.3,280.8 946.8,281.2 948.2,281.5 949.7,281.9 951.2,282.2 952.6,282.5 954.1,282.8 955.6,283.2 957.0,283.5 958.5,283.8 960.0,284.0 961.4,284.3 962.9,284.6 964.4,284.9 965.9,285.1 967.4,285.4 968.8,285.6 970.3,285.9 971.8,286.1 973.3,286.4 974.8,286.6 976.2,286.8 977.7,287.1 979.2,287.3 980.7,287.5 982.2,287.7 983.7,287.9 985.2,288.1 986.6,288.3 988.1,288.5 989.6,288.7 991.1,288.9 992.6,289.1 994.1,289.3 995.6,289.6 997.1,289.8 998.5,290.0 1000.0,290.2 1001.5,290.4 1003.0,290.6 1004.5,290.8 1006.0,291.0 1007.5,291.2 1009.0,291.4 1010.4,291.6 1011.9,291.8 1013.4,292.0 1014.9,292.2 1016.4,292.5 1017.9,292.7 1019.3,292.9 1020.8,293.2 1022.3,293.4 1023.8,293.6 1025.3,293.9 1026.7,294.2 1028.2,294.4 1029.7,294.7 1031.2,295.0 1032.7,295.2 1034.1,295.5 1035.6,295.9 1037.1,296.2 1038.5,296.6 1040.0,297.0 1041.4,297.4 1042.8,297.9 1044.2,298.5 1045.6,299.1 1046.9,299.8 1048.2,300.5 1049.5,301.3 1050.7,302.2 1051.9,303.1 1053.1,304.0 1054.4,304.8 1055.7,305.5 1057.0,306.2 1058.4,306.7 1059.8,307.2 1061.3,307.7 1062.7,308.0 1064.2,308.3 1065.7,308.5 1067.2,308.6 1068.7,308.6 1070.2,308.6 1071.7,308.5 1073.2,308.3 1074.7,308.1 1076.1,307.7 1077.6,307.3 1079.0,306.9 1080.4,306.4 1081.8,305.9 1083.2,305.3 1084.6,304.7 1085.9,304.0 1087.3,303.3 1088.6,302.6 1089.9,301.9 1091.2,301.1 1092.5,300.4 1093.8,299.6 1095.1,298.8 1096.4,298.0 1097.6,297.2 1098.9,296.4 1100.2,295.7 1101.5,294.9 1102.8,294.1 1104.1,293.4 1105.4,292.6 1106.7,291.9 1108.0,291.2 1109.4,290.6 1110.7,290.0 1112.1,289.4 1113.5,288.9 1115.0,288.4"/>
<path stroke="#008000" d="M206.1,774.0L207.5,774.6 208.8,775.2 210.2,775.7 211.6,776.3 213.0,776.9 214.4,777.4 215.8,778.0 217.2,778.6 218.5,779.2 219.9,779.8 221.3,780.4 222.7,781.0 224.0,781.6 225.4,782.2 226.8,782.8 228.2,783.5 229.5,784.1 230.9,784.7 232.2,785.4 233.6,786.0 234.9,786.7 236.3,787.3 237.6,788.0 239.0,788.6 240.3,789.3 241.7,790.0 243.0,790.7 244.3,791.4 245.6,792.1 247.0,792.8 248.3,793.5 249.6,794.3 250.9,795.0 252.2,795.7 253.5,796.5 254.8,797.2 256.1,798.0 257.4,798.8 258.7,799.6 259.9,800.4 261.2,801.2 262.5,802.0 263.7,802.8 265.0,803.6 266.2,804.5 267.5,805.3 268.7,806.2 269.9,807.0 271.1,807.9 272.4,808.8 273.6,809.7 274.8,810.6 275.9,811.5 277.1,812.4 278.3,813.4 279.5,814.3 280.6,815.3 281.8,816.2 282.9,817.2 284.0,818.2 285.1,819.2 286.2,820.2 287.3,821.3 288.4,822.3 289.5,823.3 290.6,824.4 291.6,825.5 292.7,826.6 293.7,827.6 294.7,828.7 295.7,829.8 296.7,831.0 297.7,832.1 298.7,833.2 299.7,834.4 300.6,835.5 301.6,836.7 302.5,837.8 303.5,839.0 304.4,840.2 305.3,841.4 306.2,842.6 307.1,843.8 308.0,845.0 308.9,846.2 309.8,847.4 310.6,848.7 311.5,849.9 312.4,851.1 313.2,852.4 314.0,853.6 314.9,854.9 315.7,856.1 316.5,857.4 317.3,858.6 318.1,859.9 318.9,861.2 319.7,862.5 320.5,863.7 321.3,865.0 322.0,866.3 322.8,867.6 323.6,868.9 324.3,870.2 325.1,871.5 325.8,872.8 326.6,874.1 327.3,875.4 328.0,876.7 328.8,878.0 329.5,879.3 330.2,880.6 331.0,881.9 331.7,883.2 332.5,884.5 333.2,885.8 334.0,887.1 334.8,888.4 335.6,889.7 336.4,890.9 337.2,892.2 338.1,893.4 338.9,894.7 339.8,895.9 340.7,897.1 341.6,898.3 342.6,899.4 343.5,900.6 344.5,901.7 345.5,902.8 346.5,903.9 347.6,905.0 348.7,906.1 349.8,907.1 350.9,908.0 352.1,909.0 353.3,909.8 354.6,910.6 355.9,911.3 357.3,912.0 358.7,912.4 360.2,912.8 361.7,912.9 363.2,912.9 364.6,912.7 366.1,912.3 367.5,911.7 368.8,911.1 370.1,910.3 371.4,909.5 372.6,908.6 373.8,907.7 375.0,906.7 376.1,905.8 377.2,904.7 378.3,903.7 379.3,902.6 380.4,901.6 381.4,900.5 382.5,899.4 383.5,898.3 384.6,897.3 385.6,896.2 386.7,895.1 387.7,894.1 388.8,893.0 390.0,892.0 391.1,891.1 392.3,890.1 393.5,889.2 394.7,888.3 395.9,887.4 397.1,886.5 398.3,885.7 399.5,884.8 400.8,883.9 402.0,883.1 403.2,882.2 404.4,881.3 405.6,880.4 406.8,879.5 407.9,878.5 409.1,877.5 410.2,876.5 411.3,875.5 412.4,874.4 413.4,873.4 414.4,872.2 415.4,871.1 416.3,869.9 417.2,868.7 418.1,867.5 419.0,866.3 419.8,865.1 420.6,863.8 421.4,862.5 422.2,861.2 423.0,859.9 423.7,858.6 424.4,857.3 425.1,856.0 425.8,854.7 426.5,853.3 427.1,852.0 427.7,850.6 428.3,849.2 428.9,847.8 429.4,846.4 429.9,845.0 430.4,843.6 430.9,842.2 431.4,840.7 431.8,839.3 432.2,837.9 432.7,836.4 433.1,835.0 433.5,833.5 433.9,832.1 434.4,830.7 434.8,829.2 435.3,827.8 435.8,826.4 436.3,825.0 436.8,823.6 437.3,822.2 437.9,820.8 438.5,819.4 439.1,818.0 439.8,816.7 440.4,815.3 441.1,814.0 441.8,812.7 442.5,811.3 443.2,810.0 444.0,808.7 444.7,807.4 445.5,806.1 446.2,804.8 447.0,803.5 447.8,802.3 448.6,801.0 449.3,799.7 450.1,798.4 450.9,797.1 451.7,795.8 452.4,794.6 453.2,793.3 454.0,792.0 454.7,790.7 455.5,789.4 456.2,788.1 456.9,786.7 457.6,785.4 458.3,784.1 459.0,782.7 459.7,781.4 460.3,780.0 461.0,778.7 461.6,777.3 462.2,776.0 462.8,774.6 463.4,773.2 464.0,771.8 464.6,770.4 465.1,769.0 465.7,767.7 466.2,766.3 466.8,764.9 467.3,763.4 467.8,762.0 468.3,760.6 468.8,759.2 469.3,757.8 469.8,756.4 470.3,755.0 470.8,753.5 471.3,752.1 471.7,750.7 472.2,749.3 472.7,747.8 473.1,746.4 473.6,745.0 474.0,743.5 474.5,742.1 474.9,740.7 475.4,739.2 475.8,737.8 476.2,736.4 476.7,734.9 477.1,733.5 477.6,732.1 478.0,730.6 478.5,729.2 478.9,727.8 479.4,726.3 479.8,724.9 480.3,723.5 480.7,722.1 481.2,720.6 481.6,719.2 482.1,717.8 482.6,716.3 483.0,714.9 483.5,713.5 483.9,712.0 484.4,710.6 484.8,709.2 485.3,707.8 485.8,706.3 486.2,704.9 486.7,703.5 487.1,702.0 487.6,700.6 488.1,699.2 488.5,697.8 489.0,696.3 489.4,694.9 489.9,693.5 490.4,692.0 490.8,690.6 491.3,689.2 491.7,687.7 492.2,686.3 492.6,684.9 493.1,683.4 493.5,682.0 493.9,680.6 494.4,679.1 494.8,677.7 495.3,676.3 495.7,674.8 496.1,673.4 496.6,672.0 497.0,670.5 497.4,669.1 497.9,667.7 498.3,666.2 498.7,664.8 499.2,663.3 499.6,661.9 500.0,660.5 500.4,659.0 500.8,657.6 501.2,656.1 501.7,654.7 502.1,653.2 502.5,651.8 502.9,650.4 503.3,648.9 503.7,647.5 504.1,646.0 504.5,644.6 504.9,643.1 505.3,641.7 505.7,640.2 506.1,638.8 506.5,637.3 506.9,635.9 507.3,634.4 507.7,633.0 508.1,631.6 508.5,630.1 508.9,628.7 509.2,627.2 509.6,625.7 510.0,624.3 510.4,622.8 510.8,621.4 511.2,619.9 511.5,618.5 511.9,617.0 512.3,615.6 512.7,614.1 513.0,612.7 513.4,611.2 513.8,609.8 514.1,608.3 514.5,606.9 514.9,605.4 515.2,603.9 515.6,602.5 515.9,601.0 516.3,599.6 516.7,598.1 517.0,596.6 517.4,595.2 517.7,593.7 518.1,592.3 518.4,590.8 518.8,589.4 519.1,587.9 519.5,586.4 519.8,585.0 520.1,583.5 520.5,582.0 520.8,580.6 521.2,579.1 521.5,577.7 521.8,576.2 522.2,574.7 522.5,573.3 522.8,571.8 523.2,570.3 523.5,568.9 523.8,567.4 524.1,566.0 524.5,564.5 524.8,563.0 525.1,561.6 525.4,560.1 525.8,558.6 526.1,557.2 526.4,555.7 526.7,554.2 527.0,552.8 527.3,551.3 527.7,549.8 528.0,548.3 528.3,546.9 528.6,545.4 528.9,543.9 529.2,542.5 529.5,541.0 529.8,539.5 530.1,538.1 530.4,536.6 530.7,535.1 531.0,533.7 531.3,532.2 531.6,530.7 531.9,529.2 532.2,527.8 532.5,526.3 532.8,524.8 533.1,523.4 533.4,521.9 533.7,520.4 534.0,518.9 534.2,517.5 534.5,516.0 534.8,514.5 535.1,513.0 535.4,511.6 535.7,510.1 535.9,508.6 536.2,507.1 536.5,505.7 536.8,504.2 537.0,502.7 537.3,501.2 537.6,499.8 537.9,498.3 538.1,496.8 538.4,495.3 538.7,493.9 539.0,492.4 539.2,490.9 539.5,489.4 539.8,488.0 540.0,486.5 540.3,485.0 540.6,483.5 540.8,482.0 541.1,480.6 541.4,479.1 541.6,477.6 541.9,476.1 542.1,474.7 542.4,473.2 542.7,471.7 542.9,470.2 543.2,468.7 543.4,467.3 543.7,465.8 544.0,464.3 544.2,462.8 544.5,461.3 544.7,459.9 545.0,458.4 545.2,456.9 545.5,455.4 545.7,454.0 546.0,452.5 546.3,451.0 546.5,449.5 546.8,448.0 547.0,446.6 547.3,445.1 547.5,443.6 547.8,442.1 548.0,440.6 548.3,439.2 548.5,437.7 548.8,436.2 549.0,434.7 549.3,433.2 549.5,431.8 549.8,430.3 550.0,428.8 550.3,427.3 550.5,425.8 550.8,424.4 551.1,422.9 551.3,421.4 551.6,419.9 551.8,418.4 552.1,417.0 552.3,415.5 552.6,414.0 552.8,412.5 553.1,411.0 553.3,409.6 553.6,408.1 553.8,406.6 554.1,405.1 554.3,403.7 554.6,402.2 554.9,400.7 555.1,399.2 555.4,397.7 555.6,396.3 555.9,394.8 556.1,393.3 556.4,391.8 556.7,390.3 556.9,388.9 557.2,387.4 557.4,385.9 557.7,384.4 558.0,383.0 558.2,381.5 558.5,380.0 558.7,378.5 559.0,377.0 559.3,375.6 559.5,374.1 559.8,372.6 560.1,371.1 560.3,369.7 560.6,368.2 560.9,366.7 561.1,365.2 561.4,363.7 561.7,362.3 562.0,360.8 562.2,359.3 562.5,357.8 562.8,356.4 563.1,354.9 563.3,353.4 563.6,351.9 563.9,350.5 564.2,349.0 564.4,347.5 564.7,346.0 565.0,344.6 565.3,343.1 565.6,341.6 565.9,340.1 566.2,338.7 566.4,337.2 566.7,335.7 567.0,334.3 567.3,332.8 567.6,331.3 567.9,329.8 568.2,328.4 568.5,326.9 568.8,325.4 569.1,324.0 569.4,322.5 569.7,321.0 570.0,319.5 570.3,318.1 570.6,316.6 570.9,315.1 571.2,313.7 571.5,312.2 571.8,310.7 572.1,309.3 572.4,307.8 572.7,306.3 573.1,304.9 573.4,303.4 573.7,301.9 574.0,300.4 574.3,299.0 574.6,297.5 575.0,296.0 575.3,294.6 575.6,293.1 575.9,291.6 576.2,290.2 576.6,288.7 576.9,287.3 577.2,285.8 577.5,284.3 577.9,282.9 578.2,281.4 578.5,279.9 578.9,278.5 579.2,277.0 579.5,275.5 579.9,274.1 580.2,272.6 580.6,271.2 580.9,269.7 581.2,268.2 581.6,266.8 581.9,265.3 582.3,263.9 582.6,262.4 583.0,260.9 583.3,259.5 583.7,258.0 584.0,256.6 584.4,255.1 584.7,253.6 585.1,252.2 585.4,250.7 585.8,249.3 586.2,247.8 586.5,246.3 586.9,244.9 587.3,243.4 587.6,242.0 588.0,240.5 588.3,239.1 588.7,237.6 589.1,236.2 589.5,234.7 589.8,233.2 590.2,231.8 590.6,230.3 591.0,228.9 591.3,227.4 591.7,226.0 592.1,224.5 592.5,223.1 592.9,221.6 593.2,220.2 593.6,218.7 594.0,217.3 594.4,215.8 594.8,214.4 595.2,212.9 595.6,211.5 596.0,210.0 596.4,208.6 596.8,207.1 597.2,205.7 597.6,204.2 598.0,202.8 598.4,201.4 598.8,199.9 599.2,198.5 599.6,197.0 600.0,195.6 600.4,194.1 600.8,192.7 601.3,191.2 601.7,189.8 602.1,188.4 602.5,186.9 602.9,185.5 603.4,184.1 603.8,182.6 604.2,181.2 604.7,179.7 605.1,178.3 605.6,176.9 606.0,175.5 606.5,174.0 607.0,172.6 607.4,171.2 607.9,169.7 608.4,168.3 608.9,166.9 609.4,165.5 609.9,164.1 610.4,162.7 610.9,161.3 611.4,159.8 612.0,158.4 612.5,157.0 613.0,155.6 613.6,154.2 614.2,152.8 614.7,151.5 615.3,150.1 615.9,148.7 616.5,147.3 617.1,145.9 617.7,144.6 618.3,143.2 618.9,141.8 619.6,140.5 620.2,139.1 620.9,137.8 621.5,136.4 622.2,135.1 622.9,133.7 623.6,132.4 624.3,131.1 625.0,129.8 625.7,128.5 626.5,127.2 627.2,125.9 628.0,124.6 628.8,123.3 629.6,122.0 630.3,120.7 631.2,119.5 632.0,118.2 632.8,116.9 633.6,115.7 634.4,114.4 635.2,113.2 636.0,111.9 636.8,110.6 637.6,109.4 638.4,108.1 639.2,106.8 640.0,105.5 640.8,104.3 641.8,103.1 642.8,102.0 644.0,101.2 645.4,100.6 646.9,100.6 648.4,100.8 649.9,101.1 651.3,101.6 652.7,102.1 654.1,102.6 655.5,103.1 657.0,103.6 658.4,103.9 659.9,104.1 661.4,104.2 662.9,104.1 664.4,104.0 665.9,103.7 667.3,103.4 668.8,103.0 670.2,102.5 671.6,101.9 673.0,101.3 674.4,100.8 675.8,100.3 677.2,99.9 678.7,99.6 680.2,99.5 681.7,99.5 683.2,99.7 684.7,100.0 686.1,100.3 687.6,100.7 689.0,101.2 690.4,101.7 691.8,102.2 693.2,102.8 694.5,103.5 695.9,104.2 697.2,104.9 698.5,105.7 699.7,106.5 701.0,107.3 702.2,108.2 703.4,109.1 704.6,110.0 705.7,111.0 706.9,112.0 708.0,113.0 709.0,114.0 710.1,115.1 711.2,116.2 712.2,117.3 713.2,118.4 714.2,119.5 715.2,120.6 716.2,121.8 717.1,122.9 718.1,124.1 719.0,125.2 720.0,126.4 720.9,127.6 721.8,128.8 722.7,130.0 723.7,131.1 724.6,132.3 725.5,133.5 726.4,134.7 727.3,135.9 728.3,137.1 729.2,138.2 730.1,139.4 731.1,140.6 732.0,141.7 733.0,142.9 733.9,144.1 734.9,145.2 735.9,146.4 736.8,147.5 737.8,148.7 738.8,149.8 739.8,150.9 740.7,152.1 741.7,153.2 742.7,154.3 743.7,155.4 744.7,156.6 745.7,157.7 746.7,158.8 747.7,159.9 748.7,161.0 749.7,162.1 750.8,163.2 751.8,164.3 752.8,165.4 753.8,166.5 754.9,167.6 755.9,168.7 756.9,169.8 758.0,170.9 759.0,171.9 760.1,173.0 761.1,174.1 762.2,175.2 763.2,176.2 764.3,177.3 765.3,178.4 766.4,179.4 767.5,180.5 768.5,181.6 769.6,182.6 770.7,183.7 771.7,184.7 772.8,185.8 773.9,186.8 775.0,187.8 776.0,188.9 777.1,189.9 778.2,191.0 779.3,192.0 780.4,193.0 781.5,194.1 782.6,195.1 783.7,196.1 784.8,197.2 785.8,198.2 786.9,199.2 788.0,200.2 789.1,201.2 790.2,202.3 791.4,203.3 792.5,204.3 793.6,205.3 794.7,206.3 795.8,207.3 796.9,208.4 798.0,209.4 799.1,210.4 800.2,211.4 801.3,212.4 802.4,213.4 803.6,214.4 804.7,215.4 805.8,216.4 806.9,217.4 808.0,218.4 809.1,219.4 810.3,220.4 811.4,221.4 812.5,222.4 813.6,223.4 814.8,224.4 815.9,225.4 817.0,226.4 818.1,227.4 819.3,228.4 820.4,229.3 821.5,230.3 822.7,231.3 823.8,232.3 825.0,233.2 826.1,234.2 827.3,235.1 828.5,236.1 829.6,237.0 830.8,238.0 832.0,238.9 833.1,239.9 834.3,240.8 835.5,241.7 836.7,242.6 837.9,243.5 839.1,244.4 840.3,245.3 841.5,246.2 842.7,247.1 843.9,248.0 845.1,248.8 846.4,249.7 847.6,250.6 848.9,251.4 850.1,252.2 851.4,253.1 852.6,253.9 853.9,254.7 855.2,255.4 856.5,256.2 857.8,256.9 859.1,257.6 860.5,258.2 861.9,258.8 863.3,259.2 864.8,259.7 866.2,260.0 867.7,260.2 869.2,260.3 870.7,260.3 872.2,260.2 873.7,260.1 875.2,260.0 876.7,259.9 878.2,259.8 879.7,259.8 881.2,259.9 882.7,260.0 884.2,260.2 885.7,260.4 887.1,260.7 888.6,261.0 890.1,261.4 891.5,261.8 893.0,262.2 894.4,262.6 895.8,263.1 897.2,263.6 898.7,264.1 900.1,264.6 901.5,265.1 902.9,265.6 904.3,266.1 905.7,266.6 907.1,267.1 908.6,267.6 910.0,268.1 911.4,268.6 912.8,269.0 914.3,269.4 915.7,269.8 917.2,270.1 918.7,270.5 920.1,270.8 921.6,271.1 923.1,271.4 924.6,271.6 926.0,271.9 927.5,272.1 929.0,272.3 930.5,272.5 932.0,272.7 933.5,272.9 934.9,273.1 936.4,273.3 937.9,273.5 939.4,273.7 940.9,274.0 942.4,274.2 943.9,274.4 945.3,274.7 946.8,274.9 948.3,275.2 949.8,275.5 951.2,275.9 952.7,276.2 954.1,276.6 955.6,277.0 957.0,277.4 958.5,277.9 959.9,278.3 961.3,278.8 962.7,279.3 964.1,279.8 965.6,280.3 967.0,280.8 968.4,281.3 969.8,281.9 971.2,282.4 972.6,283.0 974.0,283.5 975.4,284.0 976.8,284.6 978.2,285.1 979.6,285.7 981.0,286.2 982.4,286.8 983.8,287.3 985.2,287.8 986.6,288.4 988.0,288.9 989.4,289.4 990.8,289.9 992.2,290.4 993.6,290.9 995.1,291.3 996.5,291.8 997.9,292.3 999.4,292.7 1000.8,293.2 1002.2,293.6 1003.7,294.0 1005.1,294.4 1006.6,294.8 1008.0,295.1 1009.5,295.5 1011.0,295.8 1012.4,296.1 1013.9,296.4 1015.4,296.7 1016.8,297.0 1018.3,297.2 1019.8,297.5 1021.3,297.7 1022.8,297.9 1024.3,298.1 1025.8,298.3 1027.3,298.4 1028.7,298.6 1030.2,298.7 1031.7,298.8 1033.2,299.0 1034.7,299.1 1036.2,299.2 1037.7,299.3 1039.2,299.3 1040.7,299.4 1042.2,299.5 1043.7,299.5 1045.2,299.6 1046.7,299.7 1048.2,299.7 1049.7,299.7 1051.2,299.8 1052.7,299.8 1054.2,299.9 1055.7,299.9 1057.2,299.9 1058.7,300.0 1060.2,300.0 1061.7,300.1 1063.2,300.1 1064.7,300.2 1066.2,300.2 1067.7,300.3 1069.2,300.3 1070.7,300.4 1072.2,300.5 1073.7,300.5 1075.2,300.6 1076.7,300.7 1078.2,300.8 1079.7,300.9 1081.2,301.0 1082.7,301.2 1084.2,301.3 1085.7,301.5 1087.2,301.6 1088.7,301.8 1090.2,302.0 1091.6,302.2 1093.1,302.4 1094.6,302.7 1096.1,302.9 1097.6,303.2 1099.0,303.5 1100.5,303.8 1102.0,304.1 1103.4,304.4 1104.9,304.8 1106.4,305.2 1107.8,305.6 1109.2,306.0 1110.7,306.5 1112.1,306.9 1113.5,307.4 1114.9,307.9"/>
</g>
<g stroke="#3a3a3a" stroke-width="2.3">
<line x1="327.7" y1="968.4" x2="327.7" y2="953.4"/>
<line x1="327.7" y1="32.4" x2="327.7" y2="47.4"/>
<line x1="496.0" y1="968.4" x2="496.0" y2="953.4"/>
<line x1="496.0" y1="32.4" x2="496.0" y2="47.4"/>
<line x1="662.1" y1="968.4" x2="662.1" y2="953.4"/>
<line x1="662.1" y1="32.4" x2="662.1" y2="47.4"/>
<line x1="830.6" y1="968.4" x2="830.6" y2="953.4"/>
<line x1="830.6" y1="32.4" x2="830.6" y2="47.4"/>
<line x1="999.0" y1="968.4" x2="999.0" y2="953.4"/>
<line x1="999.0" y1="32.4" x2="999.0" y2="47.4"/>
<line x1="206.0" y1="32.4" x2="221.0" y2="32.4"/>
<line x1="1113.6" y1="32.4" x2="1098.6" y2="32.4"/>
<line x1="206.0" y1="149.4" x2="221.0" y2="149.4"/>
<line x1="1113.6" y1="149.4" x2="1098.6" y2="149.4"/>
<line x1="206.0" y1="266.4" x2="221.0" y2="266.4"/>
<line x1="1113.6" y1="266.4" x2="1098.6" y2="266.4"/>
<line x1="206.0" y1="383.4" x2="221.0" y2="383.4"/>
<line x1="1113.6" y1="383.4" x2="1098.6" y2="383.4"/>
<line x1="206.0" y1="500.4" x2="221.0" y2="500.4"/>
<line x1="1113.6" y1="500.4" x2="1098.6" y2="500.4"/>
<line x1="206.0" y1="617.4" x2="221.0" y2="617.4"/>
<line x1="1113.6" y1="617.4" x2="1098.6" y2="617.4"/>
<line x1="206.0" y1="734.4" x2="221.0" y2="734.4"/>
<line x1="1113.6" y1="734.4" x2="1098.6" y2="734.4"/>
<line x1="206.0" y1="851.4" x2="221.0" y2="851.4"/>
<line x1="1113.6" y1="851.4" x2="1098.6" y2="851.4"/>
<line x1="206.0" y1="968.4" x2="221.0" y2="968.4"/>
<line x1="1113.6" y1="968.4" x2="1098.6" y2="968.4"/>
</g>
<rect x="206.0" y="32.4" width="907.5999999999999" height="936.0" fill="none" stroke="#000" stroke-width="2.3"/>
<g stroke-width="6.6">
<line x1="640.2" y1="764.6" x2="712.6" y2="764.6" stroke="#000"/>
<line x1="640.2" y1="832.5" x2="712.6" y2="832.5" stroke="#f00"/>
<line x1="640.2" y1="900.4" x2="712.6" y2="900.4" stroke="#008000"/>
</g>
<g fill="#000">

<text transform="translate(130.94,42.57) scale(0.4353,0.4353)" font-family='"Liberation Sans",sans-serif' font-style="normal" font-size="100" stroke="#fff" stroke-width="1.90" stroke-linejoin="round">2.0</text>
<text transform="translate(131.68,159.57) scale(0.4417,0.4417)" font-family='"Liberation Sans",sans-serif' font-style="normal" font-size="100" stroke="#fff" stroke-width="1.90" stroke-linejoin="round">1.5</text>
<text transform="translate(132.74,276.57) scale(0.4353,0.4353)" font-family='"Liberation Sans",sans-serif' font-style="normal" font-size="100" stroke="#fff" stroke-width="1.90" stroke-linejoin="round">1.0</text>
<text transform="translate(132.84,393.57) scale(0.4353,0.4353)" font-family='"Liberation Sans",sans-serif' font-style="normal" font-size="100" stroke="#fff" stroke-width="1.90" stroke-linejoin="round">0.5</text>
<text transform="translate(131.34,510.57) scale(0.4353,0.4353)" font-family='"Liberation Sans",sans-serif' font-style="normal" font-size="100" stroke="#fff" stroke-width="1.90" stroke-linejoin="round">0.0</text>
<text transform="translate(132.04,627.57) scale(0.4353,0.4353)" font-family='"Liberation Sans",sans-serif' font-style="normal" font-size="100" stroke="#fff" stroke-width="1.90" stroke-linejoin="round">0.5</text>
<text transform="translate(103.29,630.26) scale(0.5010,0.4286)" font-family='"Liberation Sans",sans-serif' font-style="normal" font-size="100">−</text>
<text transform="translate(132.94,744.57) scale(0.4353,0.4353)" font-family='"Liberation Sans",sans-serif' font-style="normal" font-size="100" stroke="#fff" stroke-width="1.90" stroke-linejoin="round">1.0</text>
<text transform="translate(103.29,747.26) scale(0.5010,0.4286)" font-family='"Liberation Sans",sans-serif' font-style="normal" font-size="100">−</text>
<text transform="translate(131.78,861.57) scale(0.4417,0.4417)" font-family='"Liberation Sans",sans-serif' font-style="normal" font-size="100" stroke="#fff" stroke-width="1.90" stroke-linejoin="round">1.5</text>
<text transform="translate(103.29,864.26) scale(0.5010,0.4286)" font-family='"Liberation Sans",sans-serif' font-style="normal" font-size="100">−</text>
<text transform="translate(132.94,978.57) scale(0.4353,0.4353)" font-family='"Liberation Sans",sans-serif' font-style="normal" font-size="100" stroke="#fff" stroke-width="1.90" stroke-linejoin="round">2.0</text>
<text transform="translate(103.29,981.26) scale(0.5010,0.4286)" font-family='"Liberation Sans",sans-serif' font-style="normal" font-size="100">−</text>
<text transform="translate(303.42,1013.57) scale(0.4478,0.4353)" font-family='"Liberation Sans",sans-serif' font-style="normal" font-size="100" stroke="#fff" stroke-width="1.90" stroke-linejoin="round">100</text>
<text transform="translate(274.07,1015.66) scale(0.5052,0.4286)" font-family='"Liberation Sans",sans-serif' font-style="normal" font-size="100">−</text>
<text transform="translate(483.67,1013.57) scale(0.4319,0.4353)" font-family='"Liberation Sans",sans-serif' font-style="normal" font-size="100" stroke="#fff" stroke-width="1.90" stroke-linejoin="round">50</text>
<text transform="translate(454.53,1015.66) scale(0.4948,0.4286)" font-family='"Liberation Sans",sans-serif' font-style="normal" font-size="100">−</text>
<text transform="translate(650.52,1013.57) scale(0.4029,0.4353)" font-family='"Liberation Sans",sans-serif' font-style="normal" font-size="100" stroke="#fff" stroke-width="1.90" stroke-linejoin="round">0</text>
<text transform="translate(804.86,1013.57) scale(0.4329,0.4353)" font-family='"Liberation Sans",sans-serif' font-style="normal" font-size="100" stroke="#fff" stroke-width="1.90" stroke-linejoin="round">50</text>
<text transform="translate(961.00,1013.57) scale(0.4270,0.4353)" font-family='"Liberation Sans",sans-serif' font-style="normal" font-size="100" stroke="#fff" stroke-width="1.90" stroke-linejoin="round">100</text>
<text transform="translate(756.87,779.79) scale(0.4513,0.4585)" font-family='"Liberation Sans",sans-serif' font-style="normal" font-size="100">SAS</text>
<text transform="translate(759.22,847.18) scale(0.5212,0.4673)" font-family='"Liberation Sans",sans-serif' font-style="normal" font-size="100">zonal</text>
<text transform="translate(900.47,847.39) scale(0.4653,0.4599)" font-family='"Liberation Sans",sans-serif' font-style="normal" font-size="100">WMLES</text>
<text transform="translate(760.87,915.59) scale(0.4589,0.4599)" font-family='"Liberation Sans",sans-serif' font-style="normal" font-size="100">WMLES</text>
<text transform="translate(569.33,1092.42) scale(0.5870,0.5975)" font-family='"Liberation Serif",serif' font-style="italic" font-size="100" stroke="#fff" stroke-width="1.60" stroke-linejoin="round">y</text>
<text transform="translate(596.32,1094.30) scale(0.6309,0.7751)" font-family='"Liberation Serif",serif' font-style="normal" font-size="100" stroke="#fff" stroke-width="2.60" stroke-linejoin="round">(</text>
<text transform="translate(617.67,1094.29) scale(0.8469,0.6184)" font-family='"Liberation Serif",serif' font-style="italic" font-size="100" stroke="#fff" stroke-width="1.60" stroke-linejoin="round">m</text>
<text transform="translate(673.99,1094.29) scale(0.8437,0.6184)" font-family='"Liberation Serif",serif' font-style="italic" font-size="100" stroke="#fff" stroke-width="1.60" stroke-linejoin="round">m</text>
<text transform="translate(733.84,1094.42) scale(0.6600,0.7694)" font-family='"Liberation Serif",serif' font-style="normal" font-size="100" stroke="#fff" stroke-width="2.60" stroke-linejoin="round">)</text>
<text transform="translate(62.75,632.82) rotate(-90) scale(0.6924,0.6960)" font-family='"Liberation Serif",serif' font-style="italic" font-size="100" stroke="#fff" stroke-width="1.60" stroke-linejoin="round">U</text>
<text transform="translate(79.00,589.70) rotate(-90) scale(0.6079,0.4694)" font-family='"Liberation Serif",serif' font-style="italic" font-size="100" stroke="#fff" stroke-width="1.60" stroke-linejoin="round">n</text>
<text transform="translate(63.05,535.10) rotate(-90) scale(0.7390,0.7728)" font-family='"Liberation Serif",serif' font-style="normal" font-size="100" stroke="#fff" stroke-width="2.60" stroke-linejoin="round">(</text>
<text transform="translate(62.58,512.10) rotate(-90) scale(0.8405,0.6117)" font-family='"Liberation Serif",serif' font-style="italic" font-size="100" stroke="#fff" stroke-width="1.60" stroke-linejoin="round">m</text>
<text transform="translate(78.55,452.68) rotate(-90) scale(0.9950,0.9860)" font-family='"Liberation Serif",serif' font-style="normal" font-size="100" stroke="#fff" stroke-width="2.60" stroke-linejoin="round">/</text>
<text transform="translate(61.96,420.92) rotate(-90) scale(0.7582,0.6006)" font-family='"Liberation Serif",serif' font-style="italic" font-size="100" stroke="#fff" stroke-width="1.60" stroke-linejoin="round">s</text>
<text transform="translate(63.07,391.18) rotate(-90) scale(0.6642,0.7717)" font-family='"Liberation Serif",serif' font-style="normal" font-size="100" stroke="#fff" stroke-width="2.60" stroke-linejoin="round">)</text>
</g>
</svg>
</body></html>
